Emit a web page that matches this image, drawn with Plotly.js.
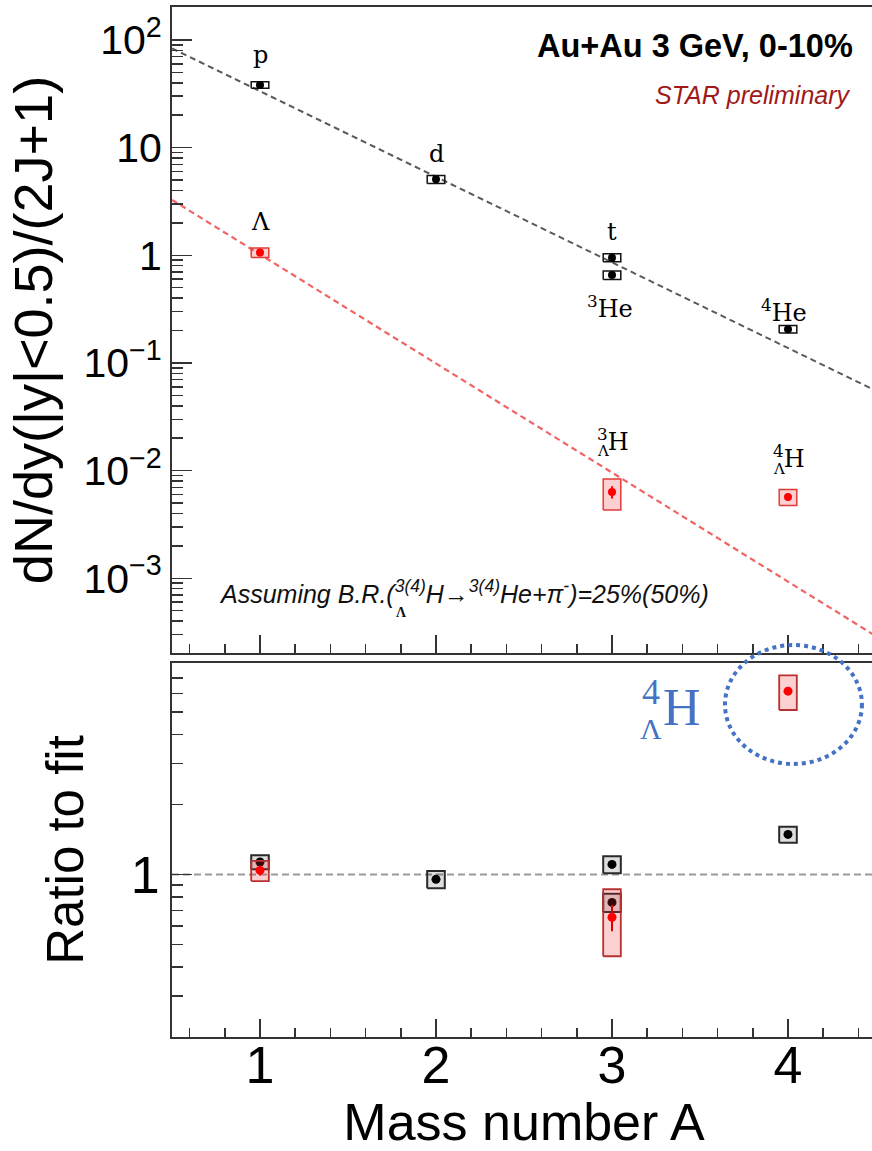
<!DOCTYPE html>
<html>
<head>
<meta charset="utf-8">
<script src="https://cdn.plot.ly/plotly-3.0.1.min.js"></script>
<style>
  html, body { margin: 0; padding: 0; overflow: hidden; background: #fff; }
  #chart { width: 880px; height: 1151px; }
</style>
</head>
<body>
<div id="chart"></div>
<script>
// Light nuclei (p, d, t, 3He, 4He)
const nucleiA = [1, 2, 3, 3, 4];
const nucleiYield = [38.2, 5.08, 0.95, 0.656, 0.206];
const nucleiSys = [0.07, 0.085, 0.085, 0.09, 0.08];       // relative systematic
const nucleiRatio = [1.13, 0.952, 1.104, 0.758, 1.485];   // data / exponential fit

// Lambda and hypernuclei (Λ, 3ΛH, 4ΛH)
const hyperA = [1, 3, 4];
const hyperYield = [1.06, 0.00634, 0.0057];
const hyperStat = [0.05, 0.13, 0.03];                     // relative statistical
const hyperSys = [0.10, 0.32, 0.17];                      // relative systematic
const hyperRatio = [1.04, 0.654, 6.13];

// Exponential fits (values at the ends of the A range)
const fitA = [0.5, 4.5];
const fitNuclei = [83.5, 0.0551];
const fitHyper = [3.27, 0.00029];
const unityRatio = [1, 1];

// Tick labels
const yieldTickVals = [1e-3, 1e-2, 1e-1, 1, 10, 100];
const yieldTickText = ['10<sup>\u22123</sup>', '10<sup>\u22122</sup>', '10<sup>\u22121</sup>', '1', '10', '10<sup>2</sup>'];
const ratioTickVals = [1];
const ratioTickText = ['1'];

// Rectangles for systematic uncertainties, one closed polygon per point
function sysBoxes(xs, ys, rel, halfWidth) {
  const bx = [], by = [];
  xs.forEach((x, i) => {
    const lo = ys[i] * (1 - rel[i]), hi = ys[i] * (1 + rel[i]);
    bx.push(x - halfWidth, x + halfWidth, x + halfWidth, x - halfWidth, x - halfWidth, null);
    by.push(lo, lo, hi, hi, lo, null);
  });
  return { x: bx, y: by };
}

// Log tick positions 2..9 in each decade inside (lo, hi), plus the labelled ones
function logTicks(lo, hi, labelled, labels) {
  const vals = [], text = [];
  for (let e = -5; e <= 3; e++) {
    for (let m = 1; m <= 9; m++) {
      const v = m * Math.pow(10, e);
      if (v <= lo || v >= hi) continue;
      const k = labelled.findIndex(t => Math.abs(t - v) / t < 1e-9);
      if (m === 1 && k < 0) continue;
      vals.push(v);
      text.push(k >= 0 ? labels[k] : '');
    }
  }
  return { vals, text };
}

const HW = 0.05;
const topBlackBox = sysBoxes(nucleiA, nucleiYield, nucleiSys, HW);
const topRedBox = sysBoxes(hyperA, hyperYield, hyperSys, HW);
const botBlackBox = sysBoxes(nucleiA, nucleiRatio, nucleiSys, HW);
const botRedBox = sysBoxes(hyperA, hyperRatio, hyperSys, HW);

const yieldTicks = logTicks(2.1e-4, 195, yieldTickVals, yieldTickText);
const ratioTicks = logTicks(0.21, 7.6, ratioTickVals, ratioTickText);

const traces = [
  // upper panel
  { x: fitA, y: fitNuclei, xaxis: 'x2', yaxis: 'y2', mode: 'lines',
    line: { color: '#5a5a5a', width: 2, dash: '6px,4px' }, hoverinfo: 'skip' },
  { x: fitA, y: fitHyper, xaxis: 'x2', yaxis: 'y2', mode: 'lines',
    line: { color: '#f06464', width: 2.2, dash: '6px,4px' }, hoverinfo: 'skip' },
  { x: topBlackBox.x, y: topBlackBox.y, xaxis: 'x2', yaxis: 'y2', mode: 'lines',
    line: { color: '#111', width: 1.5 }, connectgaps: false, hoverinfo: 'skip' },
  { x: nucleiA, y: nucleiYield, xaxis: 'x2', yaxis: 'y2', mode: 'markers',
    marker: { color: '#000', size: 8 } },
  { x: topRedBox.x, y: topRedBox.y, xaxis: 'x2', yaxis: 'y2', mode: 'lines', fill: 'toself',
    fillcolor: 'rgba(240,40,40,0.22)', line: { color: '#e03a3a', width: 1.5 }, hoverinfo: 'skip' },
  { x: hyperA, y: hyperYield, xaxis: 'x2', yaxis: 'y2', mode: 'markers',
    marker: { color: '#ff0000', size: 8 },
    error_y: { type: 'data', array: hyperYield.map((v, i) => v * hyperStat[i]),
               color: '#ff0000', thickness: 2, width: 0 } },

  // lower panel
  { x: fitA, y: unityRatio, xaxis: 'x', yaxis: 'y', mode: 'lines',
    line: { color: '#9a9a9a', width: 2, dash: '7px,4px' }, hoverinfo: 'skip' },
  { x: botBlackBox.x, y: botBlackBox.y, xaxis: 'x', yaxis: 'y', mode: 'lines', fill: 'toself',
    fillcolor: 'rgba(0,0,0,0.13)', line: { color: '#2a2a2a', width: 2 }, hoverinfo: 'skip' },
  { x: nucleiA, y: nucleiRatio, xaxis: 'x', yaxis: 'y', mode: 'markers',
    marker: { color: '#000', size: 9 } },
  { x: botRedBox.x, y: botRedBox.y, xaxis: 'x', yaxis: 'y', mode: 'lines', fill: 'toself',
    fillcolor: 'rgba(240,40,40,0.22)', line: { color: '#b83030', width: 1.8 }, hoverinfo: 'skip' },
  { x: hyperA, y: hyperRatio, xaxis: 'x', yaxis: 'y', mode: 'markers',
    marker: { color: '#ff0000', size: 9 },
    error_y: { type: 'data', array: hyperRatio.map((v, i) => v * hyperStat[i]),
               color: '#e00000', thickness: 2, width: 0 } },

  // empty traces that carry the long decade ticks
  { x: [], y: [], xaxis: 'x2', yaxis: 'y3', hoverinfo: 'skip' },
  { x: [], y: [], xaxis: 'x', yaxis: 'y4', hoverinfo: 'skip' }
];

const frame = { showline: true, mirror: true, linecolor: '#333', linewidth: 2,
                showgrid: false, zeroline: false, ticks: 'inside', tickcolor: '#333', tickwidth: 1.5 };
const sans = '"Liberation Sans", Arial, Helvetica, sans-serif';
const serif = '"DejaVu Serif", serif';
const tnr = '"Liberation Serif", serif';
const blue = '#4472C4';

const yieldRange = [-3.694, 2.306];
const ratioRange = [Math.log10(0.2), Math.log10(8.1)];

// annotation helper in the domain frame of a subplot
function dom(xr, yr, x, y, text, font, extra) {
  return Object.assign({ xref: xr + ' domain', yref: yr + ' domain', x, y, text, font,
                         showarrow: false, xanchor: 'center', yanchor: 'middle' }, extra || {});
}

const layout = {
  width: 880, height: 1151,
  margin: { l: 172, r: 4, t: 7, b: 114 },
  paper_bgcolor: '#fff', plot_bgcolor: 'rgba(0,0,0,0)',
  showlegend: false,
  font: { family: sans, color: '#000' },
  xaxis: Object.assign({}, frame, {
    anchor: 'y', range: [0.5, 4.5], tickmode: 'linear', tick0: 0, dtick: 1, ticklen: 18,
    minor: { dtick: 0.2, ticks: 'inside', ticklen: 9, tickcolor: '#333', tickwidth: 1.5 },
    tickfont: { size: 52, family: sans }, ticklabelstandoff: -18,
    title: { text: 'Mass number A', font: { size: 52, family: sans }, standoff: 15 }
  }),
  yaxis: Object.assign({}, frame, {
    domain: [0, 0.3631], anchor: 'x', type: 'log', range: ratioRange,
    tickmode: 'array', tickvals: ratioTicks.vals, ticktext: ratioTicks.text, ticklen: 11,
    tickfont: { size: 52, family: sans },
    title: { text: 'Ratio to fit', font: { size: 51, family: sans }, standoff: 31 }
  }),
  yaxis4: {
    overlaying: 'y', anchor: 'x', side: 'left', type: 'log', range: ratioRange,
    tickmode: 'array', tickvals: ratioTickVals, showticklabels: false,
    ticks: 'inside', ticklen: 20, tickcolor: '#333', tickwidth: 1.5,
    showline: false, showgrid: false, zeroline: false
  },
  xaxis2: Object.assign({}, frame, {
    anchor: 'y2', matches: 'x', range: [0.5, 4.5], tickmode: 'linear', tick0: 0, dtick: 1, ticklen: 18,
    minor: { dtick: 0.2, ticks: 'inside', ticklen: 9, tickcolor: '#333', tickwidth: 1.5 },
    showticklabels: false
  }),
  yaxis2: Object.assign({}, frame, {
    domain: [0.3728, 1], anchor: 'x2', type: 'log', range: yieldRange,
    tickmode: 'array', tickvals: yieldTicks.vals, ticktext: yieldTicks.text, ticklen: 11,
    tickfont: { size: 41, family: sans },
    title: { text: 'dN/dy(|y|<0.5)/(2J+1)', font: { size: 54, family: sans }, standoff: 14 }
  }),
  yaxis3: {
    overlaying: 'y2', anchor: 'x2', side: 'left', type: 'log', range: yieldRange,
    tickmode: 'array', tickvals: yieldTickVals, showticklabels: false,
    ticks: 'inside', ticklen: 20, tickcolor: '#333', tickwidth: 1.5,
    showline: false, showgrid: false, zeroline: false
  },
  annotations: [
    // species labels, upper panel (x = A, y = log10 of position)
    { text: 'p', x: 1.0, y: 1.861 },
    { text: 'd', x: 2.0, y: 0.942 },
    { text: 't', x: 3.0, y: 0.217 },
    { text: '<sup>3</sup>He', x: 2.99, y: -0.479 },
    { text: '<sup>4</sup>He', x: 3.98, y: -0.516 },
    { text: '\u039B', x: 1.0, y: 0.310 },
    { text: '<sup>3</sup>H', x: 3.006, y: -1.714 },
    { text: '<sup>4</sup>H', x: 4.006, y: -1.872 }
  ].map(a => Object.assign({ xref: 'x2', yref: 'y2', showarrow: false,
                             xanchor: 'center', yanchor: 'middle', font: { family: serif, size: 24, color: '#000' } }, a))
  .concat([
    { text: '\u039B', x: 2.949, y: -1.816, xref: 'x2', yref: 'y2', showarrow: false,
      xanchor: 'center', yanchor: 'middle', font: { family: serif, size: 15, color: '#000' } },
    { text: '\u039B', x: 3.946, y: -1.983, xref: 'x2', yref: 'y2', showarrow: false,
      xanchor: 'center', yanchor: 'middle', font: { family: serif, size: 15, color: '#000' } },
    dom('x2', 'y2', 0.970, 0.9396, '<b>Au+Au 3 GeV, 0-10%</b>', { family: sans, size: 32.5, color: '#000' }, { xanchor: 'right' }),
    dom('x2', 'y2', 0.967, 0.8638, '<i>STAR preliminary</i>', { family: sans, size: 25, color: '#a01818' }, { xanchor: 'right' }),
    dom('x2', 'y2', 0.064, 0.0944,
        '<i>Assuming B.R.(<sup>3(4)</sup>H\u2192<sup>3(4)</sup>He+\u03C0<sup>-</sup>)=25%(50%)</i>',
        { family: sans, size: 25, color: '#111' }, { xanchor: 'left' }),
    dom('x2', 'y2', 0.3253, 0.063, '<b>\u039B</b>', { family: tnr, size: 14, color: '#111' }),
    // highlighted 4ΛH in the ratio panel
    dom('x', 'y', 0.6811, 0.9238, '4', { family: tnr, size: 36, color: blue }),
    dom('x', 'y', 0.7244, 0.881, 'H', { family: tnr, size: 52, color: blue }),
    dom('x', 'y', 0.6797, 0.8262, '\u039B', { family: tnr, size: 30, color: blue })
  ]),
  shapes: [
    { type: 'circle', xref: 'x domain', yref: 'y domain', x0: 0.7855, x1: 0.980, y0: 0.730, y1: 1.048,
      line: { color: blue, width: 4, dash: 'dot' } }
  ]
};

Plotly.newPlot('chart', traces, layout, { displayModeBar: false, staticPlot: true });
</script>
</body>
</html>
